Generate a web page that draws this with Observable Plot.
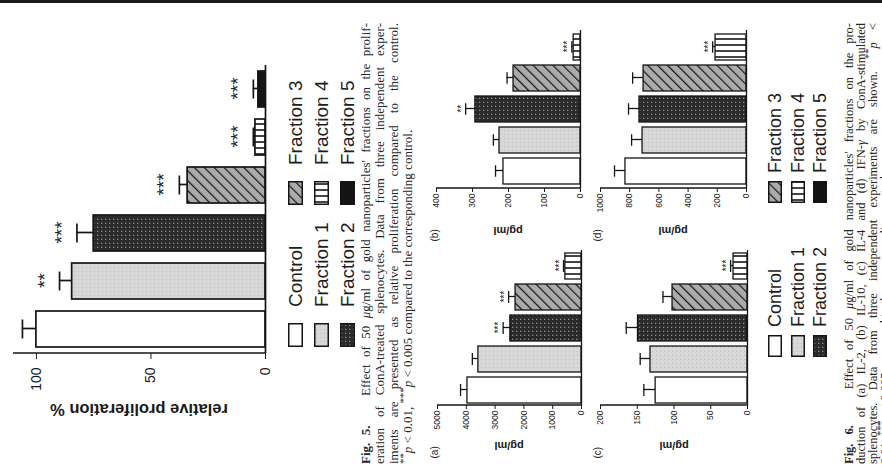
<!DOCTYPE html>
<html><head><meta charset="utf-8">
<script src="https://cdn.jsdelivr.net/npm/d3@7"></script>
<script src="https://cdn.jsdelivr.net/npm/@observablehq/plot@0.6"></script>
<style>
html,body{margin:0;padding:0;background:#fff;width:882px;height:469px;overflow:hidden}
#page{position:absolute;left:0;top:0;width:469px;height:882px;transform-origin:0 0;transform:translate(0,469px) rotate(-90deg);overflow:hidden;background:#fff}
.abs{position:absolute}
.cap{position:absolute;left:5px;width:441px;font-family:"Liberation Serif","Times New Roman",serif;font-size:13px;color:#262626}
.cap .j{text-align:justify;text-align-last:justify}
.leg{position:absolute;font-family:"Liberation Sans",Arial,sans-serif;color:#1c1c1c;white-space:nowrap;line-height:1}
.alab{position:absolute;font-family:"Liberation Sans",Arial,sans-serif;font-weight:bold;color:#1a1a1a;white-space:nowrap;line-height:1;transform:translate(-50%,-50%) rotate(-90deg)}
</style></head>
<body>
<svg width="0" height="0" style="position:absolute">
<defs>
<pattern id="pf1" patternUnits="userSpaceOnUse" width="4" height="4"><rect width="4" height="4" fill="#d8d8d8"/><rect x="1" y="2" width="1" height="1" fill="#bdbdbd"/></pattern>
<pattern id="pf2" patternUnits="userSpaceOnUse" width="4" height="4"><rect width="4" height="4" fill="#2a2a2a"/><rect x="1" y="1" width="1.3" height="1.3" fill="#8c8c8c"/></pattern>
<pattern id="pf3" patternUnits="userSpaceOnUse" width="7" height="7" patternTransform="rotate(45)"><rect width="7" height="7" fill="#ababab"/><line x1="0" y1="0" x2="0" y2="7" stroke="#151515" stroke-width="2.4"/></pattern>
<pattern id="pf4" patternUnits="userSpaceOnUse" width="6" height="6"><rect width="6" height="6" fill="#fff"/><line x1="3" y1="0" x2="3" y2="6" stroke="#151515" stroke-width="1.6"/></pattern>
</defs></svg>
<div id="page"></div>
<script>
// ---- data ----
const cats5 = ["Control", "Fraction 1", "Fraction 2", "Fraction 3", "Fraction 4", "Fraction 5"];
const prolifMean = [100, 84.4, 75, 34, 4.4, 3.1];
const prolifErr = [6.1, 5.5, 7.3, 3.6, 0.9, 2.2];
const prolifStars = ["", "**", "***", "***", "***", "***"];

const cats6 = ["Control", "Fraction 1", "Fraction 2", "Fraction 3", "Fraction 4"];
const il2Mean = [3960, 3580, 2470, 2290, 560];
const il2Err = [240, 210, 250, 240, 65];
const il2Stars = ["", "", "***", "***", "***"];
const il10Mean = [214, 225, 292, 186, 19];
const il10Err = [22, 17, 27, 18, 5];
const il10Stars = ["", "", "**", "", "***"];
const il4Mean = [125, 132, 149, 102, 19];
const il4Err = [16, 14, 16, 13, 4];
const il4Stars = ["", "", "", "", "***"];
const ifnMean = [829, 712, 733, 705, 212];
const ifnErr = [75, 75, 75, 75, 20];
const ifnStars = ["", "", "", "", "***"];

const prolifTicks = [0, 50, 100];
const il2Ticks = [0, 1000, 2000, 3000, 4000, 5000];
const il10Ticks = [0, 100, 200, 300, 400];
const il4Ticks = [0, 50, 100, 150, 200];
const ifnTicks = [0, 200, 400, 600, 800, 1000];

const fills = {"Control": "#ffffff", "Fraction 1": "url(#pf1)", "Fraction 2": "url(#pf2)",
  "Fraction 3": "url(#pf3)", "Fraction 4": "url(#pf4)", "Fraction 5": "#141414"};

const page = document.getElementById("page");
const INK = "#151515";

function axisLabel(text, u, v, font) {
  const d = document.createElement("div");
  d.className = "alab";
  d.style.left = u + "px"; d.style.top = v + "px"; d.style.fontSize = font + "px";
  d.textContent = text;
  page.appendChild(d);
}

function chart(o) {
  const W = (o.u1 - o.u0) + o.padL + o.padR, H = (o.v1 - o.v0) + o.padT + o.padB;
  const data = o.cats.map((c, i) => ({c, m: o.mean[i], e: o.err[i], s: o.stars[i]}));
  const step = (o.u1 - o.u0) / (o.cats.length - o.pi + 2 * o.po);
  const bw = step * (1 - o.pi);
  const inset = Math.max(0, (bw - o.capW) / 2);
  const marks = [
    Plot.barY(data, {x: "c", y: "m", fill: "c", stroke: INK, strokeWidth: o.lw}),
    Plot.ruleX(data, {x: "c", y1: "m", y2: d => d.m + d.e, stroke: INK, strokeWidth: o.lw}),
    Plot.tickY(data, {x: "c", y: d => d.m + d.e, inset, stroke: INK, strokeWidth: o.lw}),
    Plot.text(data.filter(d => d.s), {x: "c", y: d => d.m + d.e, text: "s", dy: -o.starDy,
      fontSize: o.starFont, fill: "#222", lineAnchor: "middle"}),
    Plot.ruleY([0], {stroke: INK, strokeWidth: o.lw})
  ];
  if (o.panel) marks.push(Plot.text([o.panel], {frameAnchor: "top-left", dx: o.panelU - o.u0,
    dy: o.panelV - o.v0, fontSize: o.panelFont, textAnchor: "start", fill: "#222"}));
  const svg = Plot.plot({
    width: W, height: H,
    marginLeft: o.padL, marginRight: o.padR, marginTop: o.padT, marginBottom: o.padB,
    style: {background: "transparent", fontFamily: "'Liberation Sans', Arial, sans-serif",
      fontSize: o.tickFont + "px", color: "#1a1a1a", overflow: "visible"},
    x: {domain: o.cats, axis: null, paddingInner: o.pi, paddingOuter: o.po},
    y: {domain: [0, o.yMax], ticks: o.ticks, tickSize: o.tickSize, tickPadding: o.tickPad,
      tickFormat: d => String(d), label: null},
    color: {domain: o.cats, range: o.cats.map(c => fills[c])},
    marks
  });
  const ys = svg.scale("y").range, xs = svg.scale("x").range;
  d3.select(svg).append("line")
    .attr("x1", xs[0]).attr("x2", xs[0]).attr("y1", ys[0]).attr("y2", ys[1])
    .attr("stroke", INK).attr("stroke-width", o.lw);
  const div = document.createElement("div");
  div.className = "abs";
  div.style.left = (o.u0 - o.padL) + "px";
  div.style.top = (o.v0 - o.padT) + "px";
  div.appendChild(svg);
  page.appendChild(div);
  axisLabel(o.label, o.labelU, (ys[0] + ys[1]) / 2 + o.v0 - o.padT, o.labelFont);
}

// Fig. 5
chart({cats: cats5, mean: prolifMean, err: prolifErr, stars: prolifStars, yMax: 110, ticks: prolifTicks,
  u0: 116, u1: 404, v0: 13, v1: 265, padL: 116, padR: 14, padT: 13, padB: 10,
  pi: 0.25, po: 0.125, capW: 19, lw: 1.7, tickFont: 14, tickSize: 6, tickPad: 9,
  starFont: 19, starDy: 15, label: "relative proliferation %", labelU: 59, labelFont: 16.5});

// Fig. 6
const small = {pi: 0.16, po: 0.08, capW: 12, lw: 1.3, tickFont: 8.5, tickSize: 4, tickPad: 2,
  starFont: 10, starDy: 4, labelFont: 11, panelFont: 10, padL: 64, padR: 12, padT: 14, padB: 16};
chart({...small, cats: cats6, mean: il2Mean, err: il2Err, stars: il2Stars, yMax: 5000, ticks: il2Ticks,
  u0: 64, u1: 219, v0: 437, v1: 581, label: "pg/ml", labelU: 24, panel: "(a)", panelU: 10, panelV: 430});
chart({...small, cats: cats6, mean: il10Mean, err: il10Err, stars: il10Stars, yMax: 400, ticks: il10Ticks,
  u0: 281, u1: 439, v0: 436, v1: 580, label: "pg/ml", labelU: 239, panel: "(b)", panelU: 227, panelV: 430});
chart({...small, cats: cats6, mean: il4Mean, err: il4Err, stars: il4Stars, yMax: 200, ticks: il4Ticks,
  u0: 64, u1: 219, v0: 600, v1: 747, label: "pg/ml", labelU: 24, panel: "(c)", panelU: 10, panelV: 593});
chart({...small, cats: cats6, mean: ifnMean, err: ifnErr, stars: ifnStars, yMax: 1000, ticks: ifnTicks,
  u0: 281, u1: 439, v0: 600, v1: 746, label: "pg/ml", labelU: 239, panel: "(d)", panelU: 227, panelV: 593});

// legends
function legend(cats, colU, rowV, sw, sh, gap, font) {
  cats.forEach((c, i) => {
    const col = Math.floor(i / rowV.length), row = i % rowV.length;
    const d = document.createElement("div");
    d.className = "leg";
    d.style.left = colU[col] + "px";
    d.style.top = (rowV[row] - sh / 2) + "px";
    d.style.fontSize = font + "px";
    d.style.display = "flex"; d.style.alignItems = "center"; d.style.height = sh + "px";
    d.innerHTML = `<svg width="${sw}" height="${sh}" style="display:block;flex:none"><rect x="0.75" y="0.75" width="${sw - 1.5}" height="${sh - 1.5}" fill="${fills[c]}" stroke="${INK}" stroke-width="1.5"/></svg><span style="margin-left:${gap}px">${c}</span>`;
    page.appendChild(d);
  });
}
legend(cats5, [122, 264], [295, 321, 347], 24, 15, 16, 19);
legend(cats5, [112, 266], [775, 798, 820], 22, 14, 8, 18);

// captions
function caption(top, lh, font, lines) {
  const d = document.createElement("div");
  d.className = "cap";
  d.style.top = top + "px";
  d.style.lineHeight = lh + "px";
  page.appendChild(d);
  lines.forEach((l, i) => {
    const r = document.createElement("div");
    if (i < lines.length - 1) r.className = "j";
    r.style.fontSize = font + "px";
    r.style.height = lh + "px";
    r.innerHTML = l;
    d.appendChild(r);
    let f = font;
    while (r.scrollHeight > lh * 1.5 && f > 8) { f -= 0.2; r.style.fontSize = f + "px"; }
  });
}
caption(359, 14, 13, [
  "<b>Fig. 5.</b>&nbsp;&nbsp;&nbsp; Effect of 50 <i>μ</i>g/ml of gold nanoparticles' fractions on the prolif-",
  "eration of ConA-treated splenocytes. Data from three independent exper-",
  "iments are presented as relative proliferation compared to the control.",
  "<sup style='line-height:0'>**</sup><i>p</i> &lt; 0.01, <sup style='line-height:0'>***</sup><i>p</i> &lt; 0.005 compared to the corresponding control."
]);
caption(843, 12, 12.5, [
  "<b>Fig. 6.</b>&nbsp;&nbsp;&nbsp; Effect of 50 <i>μ</i>g/ml of gold nanoparticles' fractions on the pro-",
  "duction of (a) IL-2, (b) IL-10, (c) IL-4 and (d) IFN-<i>γ</i> by ConA-stimulated",
  "splenocytes. Data from three independent experiments are shown. <sup style='line-height:0'>**</sup><i>p</i> &lt;",
  "0.01, <sup style='line-height:0'>***</sup><i>p</i> &lt; 0.005 compared to the corresponding control."
]);

// top rule of the scanned page
const rule = document.createElement("div");
rule.className = "abs";
rule.style.cssText = "left:465.5px;top:0;width:3.5px;height:882px;background:#1a1a1a";
page.appendChild(rule);
</script>
</body></html>
